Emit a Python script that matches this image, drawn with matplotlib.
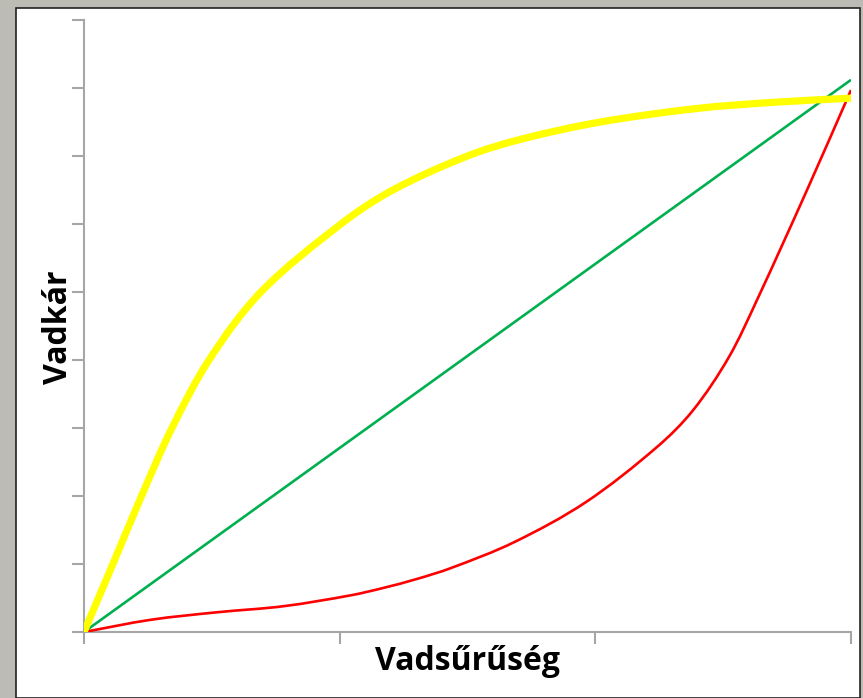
import numpy as np
import matplotlib.pyplot as plt
from matplotlib.patches import Rectangle, PathPatch
from matplotlib.path import Path

# Data (x: game density, y: game damage)
lin_x = [0, 3.0]
lin_y = [0, 8.12]

sat_x = [0, 0.113, 0.225, 0.344, 0.489, 0.692, 1.005, 1.208, 1.50, 1.713,
         2.02, 2.40, 2.70, 3.0]
sat_y = [0, 1.0, 2.0, 3.0, 4.0, 5.0, 6.0, 6.5, 7.0, 7.25,
         7.5, 7.7, 7.79, 7.85]

exp_x = [0, 0.262, 0.520, 0.782, 1.044, 1.173, 1.302, 1.435, 1.682,
         1.963, 2.241, 2.382, 2.522, 2.632, 2.828, 3.0]
exp_y = [0, 0.18, 0.29, 0.38, 0.54, 0.65, 0.78, 0.94, 1.32,
         1.91, 2.72, 3.26, 4.04, 4.88, 6.50, 7.97]

W, H = 863, 698
AX_W, AX_H = 767, 612


def smooth_path(xs, ys):
    # smoothed line like a spreadsheet chart: chord-length Catmull-Rom as Beziers
    p = np.column_stack([xs, ys]).astype(float)
    scale = np.array([AX_W / 3, AX_H / 9])
    d = np.hypot(*((np.diff(p, axis=0) * scale).T))
    n = len(p)
    tang = np.zeros_like(p)
    tang[0] = (p[1] - p[0]) / d[0]
    tang[-1] = (p[-1] - p[-2]) / d[-1]
    for i in range(1, n - 1):
        tang[i] = (p[i + 1] - p[i - 1]) / (d[i - 1] + d[i])
    verts = [p[0]]
    codes = [Path.MOVETO]
    for i in range(n - 1):
        verts += [p[i] + tang[i] * d[i] / 3, p[i + 1] - tang[i + 1] * d[i] / 3, p[i + 1]]
        codes += [Path.CURVE4] * 3
    return Path(verts, codes)


fig = plt.figure(figsize=(W / 100, H / 100), dpi=100)
fig.patch.set_facecolor('#bcbcb4')

# white slide panel with dark edge
fig.patches.append(Rectangle((16 / W, 0), (860 - 16) / W, (H - 8) / H,
                             transform=fig.transFigure, facecolor='white',
                             edgecolor='#222222', linewidth=1.2, zorder=-1))

ax = fig.add_axes([84 / W, (H - 632) / H, AX_W / W, AX_H / H])
ax.set_facecolor('none')

ax.plot(lin_x, lin_y, color='#00b050', lw=1.9, solid_capstyle='butt', zorder=3)
ax.add_patch(PathPatch(smooth_path(exp_x, exp_y), fill=False, edgecolor='#ff0000',
                       lw=1.9, capstyle='butt', zorder=3))
ax.add_patch(PathPatch(smooth_path(sat_x, sat_y), fill=False, edgecolor='#ffff00',
                       lw=5.2, capstyle='butt', zorder=4))

ax.set_xlim(0, 3)
ax.set_ylim(0, 9)
ax.set_xticks([0, 1, 2, 3])
ax.set_yticks(range(10))
ax.set_xticklabels([])
ax.set_yticklabels([])

for s in ['top', 'right']:
    ax.spines[s].set_visible(False)
for s in ['left', 'bottom']:
    ax.spines[s].set_color('#a6a6a6')
    ax.spines[s].set_linewidth(1.5)
ax.tick_params(direction='out', length=8.5, width=1.5, color='#a6a6a6')

fig.text(58 / W, 1 - 327 / H, 'Vadkár', rotation=90, ha='center', va='center',
         fontsize=23, fontweight='bold', family='Open Sans', color='black')
fig.text(467 / W, 1 - 662 / H, 'Vadsűrűség', ha='center', va='center',
         fontsize=23, fontweight='bold', family='Open Sans', color='black')

fig.savefig('out.png', dpi=100, facecolor=fig.get_facecolor())
